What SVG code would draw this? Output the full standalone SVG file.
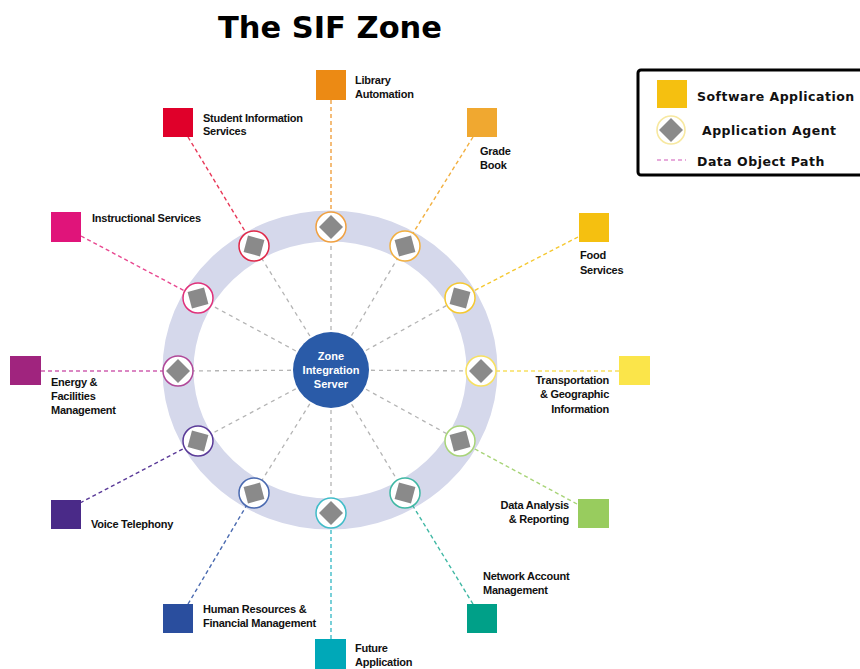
<svg xmlns="http://www.w3.org/2000/svg" width="860" height="669" viewBox="0 0 860 669">
  <style>
    .title { font-family: "DejaVu Sans", "Liberation Sans", sans-serif; font-weight: bold; font-size: 31px; fill: #000; }
    .lbl { font-family: "Liberation Sans", Arial, sans-serif; font-weight: bold; font-size: 11px; letter-spacing: -0.25px; fill: #111; }
    .leg { font-family: "DejaVu Sans", "Liberation Sans", sans-serif; font-weight: bold; font-size: 12.5px; letter-spacing: 0.5px; fill: #111; }
    .hub { stroke: #b4b4b4; stroke-width: 1.3; stroke-dasharray: 4 4; fill: none; }
    .path { stroke-width: 1.4; stroke-dasharray: 4 3; fill: none; }
    .agent circle { fill: #fff; stroke-width: 1.5; }
    .gem { fill: #8a8a8a; }
    .srv { font-family: "Liberation Sans", Arial, sans-serif; font-weight: bold; font-size: 11px; fill: #fff; }
  </style>
  <defs>
    <rect id="gem" class="gem" x="-8.5" y="-8.5" width="17" height="17"/>
  </defs>

  <rect width="860" height="669" fill="#fff"/>

  <text class="title" x="330" y="38" text-anchor="middle" textLength="224" lengthAdjust="spacingAndGlyphs">The SIF Zone</text>

  <!-- zone ring -->
  <ellipse cx="330" cy="370" rx="152" ry="144" fill="none" stroke="#d5d8eb" stroke-width="31"/>

  <g id="connectors">
    <!-- hub spokes -->
    <g class="hub">
      <line x1="331" y1="370" x2="331" y2="227"/>
      <line x1="331" y1="370" x2="405" y2="246"/>
      <line x1="331" y1="370" x2="460" y2="298"/>
      <line x1="331" y1="370" x2="481" y2="371"/>
      <line x1="331" y1="370" x2="460" y2="441"/>
      <line x1="331" y1="370" x2="405" y2="493"/>
      <line x1="331" y1="370" x2="331" y2="513"/>
      <line x1="331" y1="370" x2="254" y2="493"/>
      <line x1="331" y1="370" x2="198" y2="441"/>
      <line x1="331" y1="370" x2="178" y2="371"/>
      <line x1="331" y1="370" x2="198" y2="298"/>
      <line x1="331" y1="370" x2="254" y2="246"/>
    </g>
    <!-- data object paths -->
    <line class="path" stroke="#f0a040" x1="331" y1="100" x2="331" y2="227"/>
    <line class="path" stroke="#f2b040" x1="473" y1="137" x2="405" y2="246"/>
    <line class="path" stroke="#f5c830" x1="578" y1="237" x2="460" y2="298"/>
    <line class="path" stroke="#f7e060" x1="619" y1="371" x2="481" y2="371"/>
    <line class="path" stroke="#a8d478" x1="577" y1="504" x2="460" y2="441"/>
    <line class="path" stroke="#40b8a4" x1="473" y1="604" x2="405" y2="493"/>
    <line class="path" stroke="#40bcc8" x1="331" y1="639" x2="331" y2="513"/>
    <line class="path" stroke="#4a6ab0" x1="188" y1="604" x2="254" y2="493"/>
    <line class="path" stroke="#5a3a98" x1="80" y1="503" x2="198" y2="441"/>
    <line class="path" stroke="#d060b0" x1="41" y1="371" x2="178" y2="371"/>
    <line class="path" stroke="#e84890" x1="81" y1="236" x2="198" y2="298"/>
    <line class="path" stroke="#e83858" x1="188" y1="137" x2="254" y2="246"/>
  </g>

  <!-- integration server -->
  <g id="zis">
    <circle cx="331" cy="370" r="38" fill="#2a5ba8"/>
    <text class="srv" x="331" y="360" text-anchor="middle">Zone</text>
    <text class="srv" x="331" y="374" text-anchor="middle">Integration</text>
    <text class="srv" x="331" y="388" text-anchor="middle">Server</text>
  </g>

  <!-- agents -->
  <g id="agent-library" class="agent"><circle cx="331" cy="227" r="15" stroke="#f0a040"/><use href="#gem" transform="translate(331 227) rotate(45)"/></g>
  <g id="agent-grade" class="agent"><circle cx="405" cy="246" r="15" stroke="#f2b040"/><use href="#gem" transform="translate(405 246) rotate(-15)"/></g>
  <g id="agent-food" class="agent"><circle cx="460" cy="298" r="15" stroke="#f5c830"/><use href="#gem" transform="translate(460 298) rotate(15)"/></g>
  <g id="agent-transport" class="agent"><circle cx="481" cy="371" r="15" stroke="#f7e060"/><use href="#gem" transform="translate(481 371) rotate(45)"/></g>
  <g id="agent-data" class="agent"><circle cx="460" cy="441" r="15" stroke="#a8d478"/><use href="#gem" transform="translate(460 441) rotate(-15)"/></g>
  <g id="agent-network" class="agent"><circle cx="405" cy="493" r="15" stroke="#40b8a4"/><use href="#gem" transform="translate(405 493) rotate(15)"/></g>
  <g id="agent-future" class="agent"><circle cx="331" cy="513" r="15" stroke="#40bcc8"/><use href="#gem" transform="translate(331 513) rotate(45)"/></g>
  <g id="agent-hr" class="agent"><circle cx="254" cy="493" r="15" stroke="#4a6ab0"/><use href="#gem" transform="translate(254 493) rotate(-15)"/></g>
  <g id="agent-voice" class="agent"><circle cx="198" cy="441" r="15" stroke="#5a3a98"/><use href="#gem" transform="translate(198 441) rotate(15)"/></g>
  <g id="agent-energy" class="agent"><circle cx="178" cy="371" r="15" stroke="#b04898"/><use href="#gem" transform="translate(178 371) rotate(45)"/></g>
  <g id="agent-instructional" class="agent"><circle cx="198" cy="298" r="15" stroke="#e0307a"/><use href="#gem" transform="translate(198 298) rotate(-15)"/></g>
  <g id="agent-student" class="agent"><circle cx="254" cy="246" r="15" stroke="#e02848"/><use href="#gem" transform="translate(254 246) rotate(15)"/></g>

  <!-- applications -->
  <g id="app-library">
    <rect x="316" y="70" width="30" height="30" fill="#ec8a14"/>
    <text class="lbl" x="355" y="84">Library</text>
    <text class="lbl" x="355" y="98">Automation</text>
  </g>
  <g id="app-student">
    <rect x="163" y="108" width="30" height="29" fill="#e0002a"/>
    <text class="lbl" x="203" y="122">Student Information</text>
    <text class="lbl" x="203" y="135">Services</text>
  </g>
  <g id="app-grade">
    <rect x="467" y="108" width="30" height="29" fill="#f0a830"/>
    <text class="lbl" x="480" y="155">Grade</text>
    <text class="lbl" x="480" y="169">Book</text>
  </g>
  <g id="app-instructional">
    <rect x="51" y="212" width="30" height="30" fill="#e0147a"/>
    <text class="lbl" x="92" y="222">Instructional Services</text>
  </g>
  <g id="app-food">
    <rect x="579" y="213" width="30" height="29" fill="#f5c010"/>
    <text class="lbl" x="580" y="259">Food</text>
    <text class="lbl" x="580" y="274">Services</text>
  </g>
  <g id="app-energy">
    <rect x="10" y="356" width="31" height="29" fill="#a0247e"/>
    <text class="lbl" x="51" y="386">Energy &amp;</text>
    <text class="lbl" x="51" y="400">Facilities</text>
    <text class="lbl" x="51" y="414">Management</text>
  </g>
  <g id="app-transport">
    <rect x="619" y="356" width="31" height="29" fill="#fbe54a"/>
    <text class="lbl" x="609" y="384" text-anchor="end">Transportation</text>
    <text class="lbl" x="609" y="398" text-anchor="end">&amp; Geographic</text>
    <text class="lbl" x="609" y="413" text-anchor="end">Information</text>
  </g>
  <g id="app-voice">
    <rect x="51" y="500" width="30" height="29" fill="#4a2a88"/>
    <text class="lbl" x="91" y="528">Voice Telephony</text>
  </g>
  <g id="app-data">
    <rect x="578" y="499" width="31" height="29" fill="#98cc5e"/>
    <text class="lbl" x="569" y="509" text-anchor="end">Data Analysis</text>
    <text class="lbl" x="569" y="523" text-anchor="end">&amp; Reporting</text>
  </g>
  <g id="app-hr">
    <rect x="163" y="604" width="30" height="29" fill="#2a4e9e"/>
    <text class="lbl" x="203" y="613">Human Resources &amp;</text>
    <text class="lbl" x="203" y="627">Financial Management</text>
  </g>
  <g id="app-network">
    <rect x="467" y="604" width="30" height="29" fill="#00a088"/>
    <text class="lbl" x="483" y="580">Network Account</text>
    <text class="lbl" x="483" y="594">Management</text>
  </g>
  <g id="app-future">
    <rect x="315" y="639" width="31" height="30" fill="#00a8b8"/>
    <text class="lbl" x="355" y="652">Future</text>
    <text class="lbl" x="355" y="666">Application</text>
  </g>

  <!-- legend -->
  <g id="legend">
    <rect x="638" y="70" width="232" height="105" rx="3" fill="#fff" stroke="#000" stroke-width="3"/>
    <rect x="657" y="80" width="30" height="28" fill="#f5c010"/>
    <text class="leg" x="697" y="101">Software Application</text>
    <circle cx="671" cy="130" r="14" fill="#fff" stroke="#f7e8a0" stroke-width="1.6"/>
    <use href="#gem" transform="translate(671 130) rotate(45)"/>
    <text class="leg" x="702" y="135">Application Agent</text>
    <line x1="657" y1="160" x2="686" y2="160" stroke="#e090d0" stroke-width="1.4" stroke-dasharray="4 3"/>
    <text class="leg" x="697" y="166">Data Object Path</text>
  </g>
</svg>
